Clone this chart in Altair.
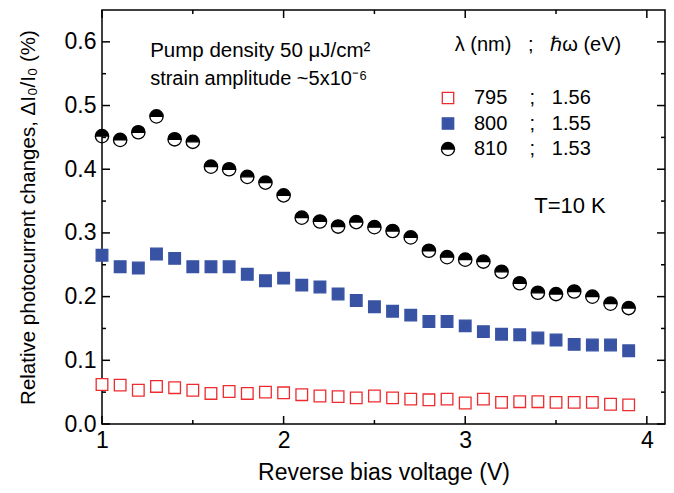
import altair as alt
import pandas as pd

# ---- data ----
volts = [1.0, 1.1, 1.2, 1.3, 1.4, 1.5, 1.6, 1.7, 1.8, 1.9,
         2.0, 2.1, 2.2, 2.3, 2.4, 2.5, 2.6, 2.7, 2.8, 2.9,
         3.0, 3.1, 3.2, 3.3, 3.4, 3.5, 3.6, 3.7, 3.8, 3.9]
r795 = [0.062, 0.061, 0.053, 0.059, 0.057, 0.053, 0.048, 0.051, 0.048, 0.050,
        0.049, 0.046, 0.044, 0.043, 0.041, 0.044, 0.041, 0.039, 0.038, 0.039,
        0.033, 0.039, 0.034, 0.035, 0.035, 0.034, 0.034, 0.034, 0.031, 0.030]
r800 = [0.265, 0.247, 0.245, 0.267, 0.260, 0.247, 0.247, 0.247, 0.235, 0.225,
        0.229, 0.218, 0.215, 0.204, 0.194, 0.184, 0.177, 0.171, 0.161, 0.161,
        0.154, 0.145, 0.141, 0.140, 0.135, 0.132, 0.125, 0.124, 0.124, 0.115]
r810 = [0.452, 0.446, 0.458, 0.483, 0.447, 0.443, 0.404, 0.400, 0.388, 0.379,
        0.359, 0.324, 0.318, 0.310, 0.317, 0.309, 0.303, 0.293, 0.272, 0.262,
        0.258, 0.255, 0.239, 0.221, 0.206, 0.204, 0.208, 0.200, 0.189, 0.182]

NB = "\u00a0"
series_labels = [
    "795" + NB * 4 + ";" + NB * 3 + "1.56",
    "800" + NB * 4 + ";" + NB * 3 + "1.55",
    "810" + NB * 4 + ";" + NB * 3 + "1.53",
]
legend_title = "\u200b" + NB * 3 + "λ (nm)" + NB * 3 + ";" + NB * 3 + "ℏω (eV)"

x_major = [1, 2, 3, 4]
x_minor = [1.5, 2.5, 3.5]
y_major = [0.0, 0.1, 0.2, 0.3, 0.4, 0.5, 0.6]
y_minor = [0.05, 0.15, 0.25, 0.35, 0.45, 0.55]

notes_text = ["Pump density 50 μJ/cm²", "strain amplitude ~5x10⁻⁶", "T=10 K"]
notes_x = [1.265, 1.265, 3.38]
notes_y = [0.585, 0.542, 0.342]
notes_size = [20.5, 20, 22]

# ---- tables ----
rows = []
for lab, vals in zip(series_labels, [r795, r800, r810]):
    for v, r in zip(volts, vals):
        rows.append({"V": v, "R": r, "series": lab})
df = pd.DataFrame(rows)
notes = pd.DataFrame({"x": notes_x, "y": notes_y, "t": notes_text, "s": notes_size})

W, H = 563, 414
FONT = "Liberation Sans"
xscale = alt.Scale(domain=[1, 4.1], nice=False, zero=False)
yscale = alt.Scale(domain=[0, 0.65], nice=False, zero=True)
x_axis = alt.Axis(values=x_major, format="d", title="Reverse bias voltage (V)")
y_axis = alt.Axis(values=y_major, format=".1f",
                  title="Relative photocurrent changes, ΔI₀/I₀ (%)")

half_circle = ("M -1.15 0 A 1.15 1.15 0 0 1 1.15 0 Z "
               "M 1.15 0 A 1.15 1.15 0 0 1 -1.15 0 A 1.15 1.15 0 0 0 1.15 0 Z")

legend = alt.Legend(
    title=legend_title, orient="none", legendX=336, legendY=25,
    titleFontSize=20, titleFontWeight="normal", titleFont=FONT, titleColor="black",
    titlePadding=33, titleLimit=400, labelLimit=300,
    labelFontSize=20, labelFont=FONT, labelColor="black",
    labelOffset=16, rowPadding=5.5, symbolSize=130, symbolStrokeWidth=1.3,
)

points = alt.Chart(df).mark_point(opacity=1, strokeWidth=1.3, size=135).encode(
    x=alt.X("V:Q", scale=xscale, axis=x_axis),
    y=alt.Y("R:Q", scale=yscale, axis=y_axis),
    shape=alt.Shape("series:N", scale=alt.Scale(domain=series_labels,
                    range=["square", "square", half_circle]), legend=legend),
    fill=alt.Fill("series:N", scale=alt.Scale(domain=series_labels,
                  range=["white", "#3953a4", "black"]), legend=legend),
    stroke=alt.Stroke("series:N", scale=alt.Scale(domain=series_labels,
                      range=["#ee2b2f", "#3953a4", "black"]), legend=legend),
)

def tick_layer(vals, axis, side, length):
    d = pd.DataFrame({"V": vals, "R": vals})
    base = alt.Chart(d).mark_rule(color="black", strokeWidth=1.5)
    if axis == "x":
        y0 = H if side == "bottom" else 0
        y1 = H - length if side == "bottom" else length
        return base.encode(x=alt.X("V:Q", scale=xscale, axis=x_axis),
                           y=alt.value(y0), y2=alt.value(y1))
    x0 = 0 if side == "left" else W
    x1 = length if side == "left" else W - length
    return base.encode(y=alt.Y("R:Q", scale=yscale, axis=y_axis),
                       x=alt.value(x0), x2=alt.value(x1))

ticks = [
    tick_layer(x_major, "x", "bottom", 8), tick_layer(x_minor, "x", "bottom", 4),
    tick_layer(x_major, "x", "top", 8), tick_layer(x_minor, "x", "top", 4),
    tick_layer(y_major, "y", "left", 8), tick_layer(y_minor, "y", "left", 4),
    tick_layer(y_major, "y", "right", 8), tick_layer(y_minor, "y", "right", 4),
]

text = alt.Chart(notes).mark_text(
    align="left", baseline="middle", font=FONT, color="black"
).encode(
    x=alt.X("x:Q", scale=xscale, axis=x_axis),
    y=alt.Y("y:Q", scale=yscale, axis=y_axis),
    text="t:N",
    size=alt.Size("s:Q", scale=None, legend=None),
)

chart = alt.layer(points, text, *ticks).properties(
    width=W, height=H,
    autosize=alt.AutoSizeParams(type="none"),
    padding={"left": 94, "top": 2, "right": 1, "bottom": 61},
).configure_view(
    stroke="black", strokeWidth=1.5
).configure_axis(
    domain=False, ticks=False, grid=False, labelFlush=False,
    labelFont=FONT, labelFontSize=23, labelColor="black",
    titleFont=FONT, titleFontWeight="normal", titleColor="black",
).configure_axisX(
    labelPadding=5, titleFontSize=23, titlePadding=9,
).configure_axisY(
    labelPadding=6, titleFontSize=20.5, titlePadding=26,
)

chart.save("out.html", embed_options={"renderer": "svg", "actions": False})
